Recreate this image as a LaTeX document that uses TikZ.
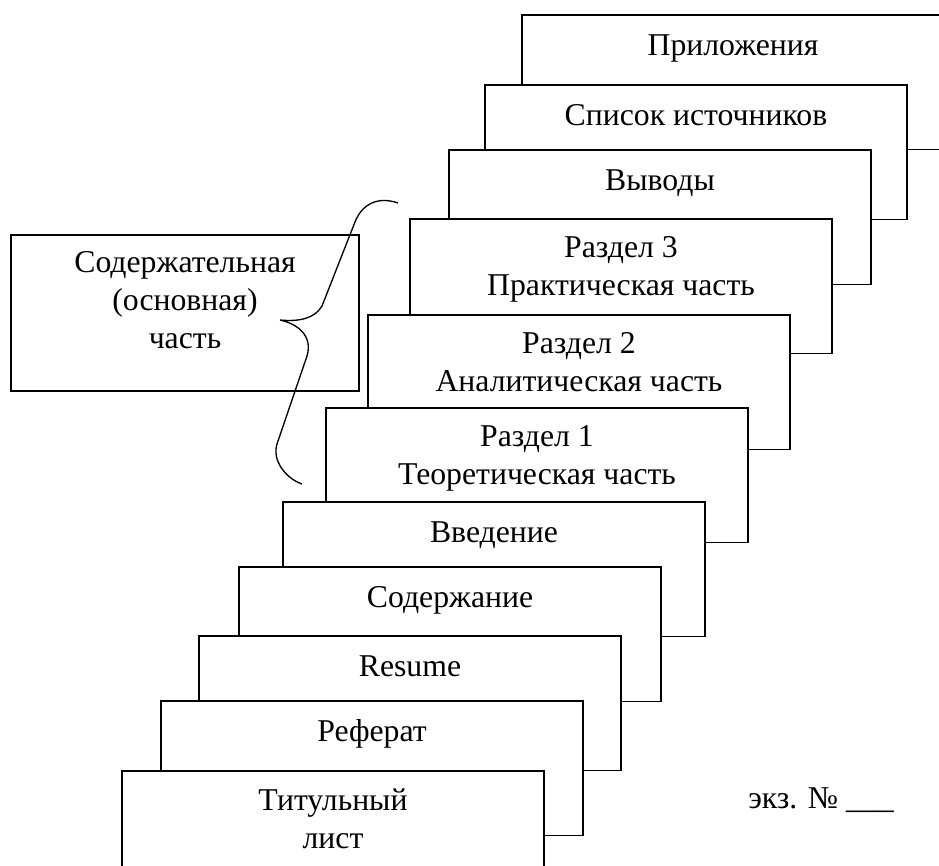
\documentclass[tikz,border=0pt]{standalone}
\usepackage{fontspec}
\setmainfont{Liberation Serif}
\usetikzlibrary{positioning,calc}

\begin{document}
\begin{tikzpicture}[x=0.75pt,y=-0.75pt,
    page/.style={draw, fill=white, line width=1.3pt, anchor=north west,
        minimum width=316.5pt, minimum height=100.9pt, inner sep=0pt, outer sep=0pt},
    pagetext/.style={anchor=north, align=center, inner sep=0pt,
        font=\fontsize{23.8}{28.5}\selectfont,
        execute at begin node=\rule{0pt}{17pt}},
    sidebox/.style={draw, line width=1.3pt, minimum width=261pt, minimum height=117pt,
        inner sep=0pt}]
    \useasboundingbox (0,0) rectangle (939,866);
    \clip (0,0) rectangle (939,866);

    % pages, back to front
    \foreach \nm/\lx/\ty/\txt in {pril/522/15/Приложения, spis/485/85/Список источников,
        vyv/449/150/Выводы, razdC/410/219/Раздел 3\\Практическая часть,
        razdB/368/315/Раздел 2\\Аналитическая часть, razdA/326/408/Раздел 1\\Теоретическая часть,
        vved/283/502/Введение, soder/239/567/Содержание, resume/199/636/Resume,
        referat/161/701/Реферат, titul/122/771/Титульный\\лист} {
        \node[page] (p\nm) at (\lx,\ty) {};
        \node[pagetext] (t\nm) at ([yshift=-13pt]p\nm.north) {\txt};
    }

    % main part box
    \node[sidebox] (mainbox) at (185,313) {};
    \node[pagetext] (maintext) at ([yshift=-13pt]mainbox.north) {Содержательная\\(основная)\\часть};

    % brace
    \draw[line width=1pt] (398,203) .. controls (378,196) and (362,204) .. (355,222)
        -- (322,306) .. controls (315,318) and (300,322) .. (280,320)
        .. controls (298,324) and (313,336) .. (307,356)
        -- (277,444) .. controls (272,460) and (285,478) .. (302,484);

    % copy number
    \node[pagetext, anchor=base west, execute at begin node={}] (copyno) at (748,808) {экз. № \_\_\_};
\end{tikzpicture}
\end{document}
